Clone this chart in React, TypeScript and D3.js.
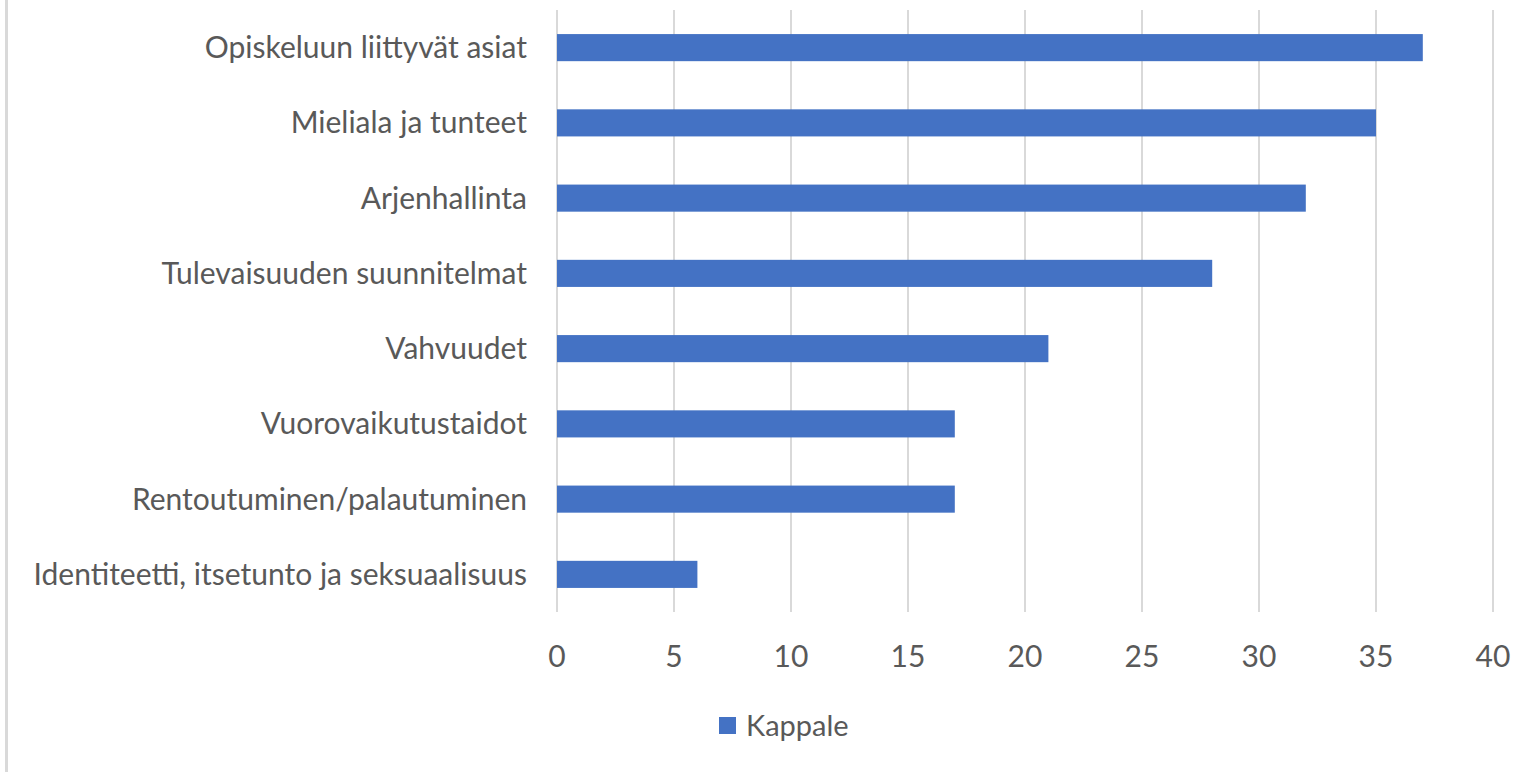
import React, { useEffect, useRef } from 'react';
import * as d3 from 'd3';

const categories = [
  'Opiskeluun liittyvät asiat',
  'Mieliala ja tunteet',
  'Arjenhallinta',
  'Tulevaisuuden suunnitelmat',
  'Vahvuudet',
  'Vuorovaikutustaidot',
  'Rentoutuminen/palautuminen',
  'Identiteetti, itsetunto ja seksuaalisuus',
];
const values = [37, 35, 32, 28, 21, 17, 17, 6];
const xTicks = [0, 5, 10, 15, 20, 25, 30, 35, 40];
const seriesName = 'Kappale';

const W = 1535;
const H = 772;
const FONT = 'Lato, "Noto Sans", sans-serif';
const TEXT = '#595959';
const GRID = '#d9d9d9';
const BAR = '#4472c4';

const App = () => {
  const svgRef = useRef<SVGSVGElement | null>(null);

  useEffect(() => {
    if (!svgRef.current) return;
    const svg = d3.select(svgRef.current);
    svg.selectAll('*').remove();

    const margin = { left: 557, right: 42, top: 10, bottom: 160 };
    const x = d3.scaleLinear().domain([0, 40]).range([margin.left, W - margin.right]);
    const y = d3.scaleBand().domain(categories).range([margin.top, H - margin.bottom]).paddingInner(0.64).paddingOuter(0.32);

    svg.append('rect').attr('width', W).attr('height', H).attr('fill', '#fff');
    // chart frame edge on the left
    svg.append('rect').attr('x', 5).attr('y', 0).attr('width', 3).attr('height', H).attr('fill', GRID);

    // gridlines
    svg.append('g')
      .selectAll('line')
      .data(xTicks)
      .join('line')
      .attr('x1', d => x(d))
      .attr('x2', d => x(d))
      .attr('y1', margin.top)
      .attr('y2', H - margin.bottom)
      .attr('stroke', GRID)
      .attr('stroke-width', 2);

    // bars
    svg.append('g')
      .selectAll('rect')
      .data(values)
      .join('rect')
      .attr('x', x(0))
      .attr('y', (d, i) => y(categories[i])!)
      .attr('width', d => x(d) - x(0))
      .attr('height', y.bandwidth())
      .attr('fill', BAR);

    // category labels
    svg.append('g')
      .selectAll('text')
      .data(categories)
      .join('text')
      .attr('x', 527)
      .attr('y', d => y(d)! + y.bandwidth() / 2)
      .attr('dy', '0.35em')
      .attr('text-anchor', 'end')
      .attr('font-family', FONT)
      .attr('font-size', 30)
      .attr('fill', TEXT)
      .text(d => d);

    // tick labels
    svg.append('g')
      .selectAll('text')
      .data(xTicks)
      .join('text')
      .attr('x', d => x(d))
      .attr('y', 656)
      .attr('dy', '0.35em')
      .attr('text-anchor', 'middle')
      .attr('font-family', FONT)
      .attr('font-size', 30)
      .attr('fill', TEXT)
      .text(d => d);

    // legend
    const lg = svg.append('g').attr('transform', 'translate(719,717)');
    lg.append('rect').attr('width', 17).attr('height', 17).attr('fill', BAR);
    lg.append('text')
      .attr('x', 27)
      .attr('y', 8.5)
      .attr('dy', '0.35em')
      .attr('font-family', FONT)
      .attr('font-size', 29)
      .attr('fill', TEXT)
      .text(seriesName);
  }, []);

  return (
    <svg
      ref={svgRef}
      width={W}
      height={H}
      style={{ position: 'absolute', left: 0, top: 0, display: 'block' }}
    />
  );
};

export default App;
